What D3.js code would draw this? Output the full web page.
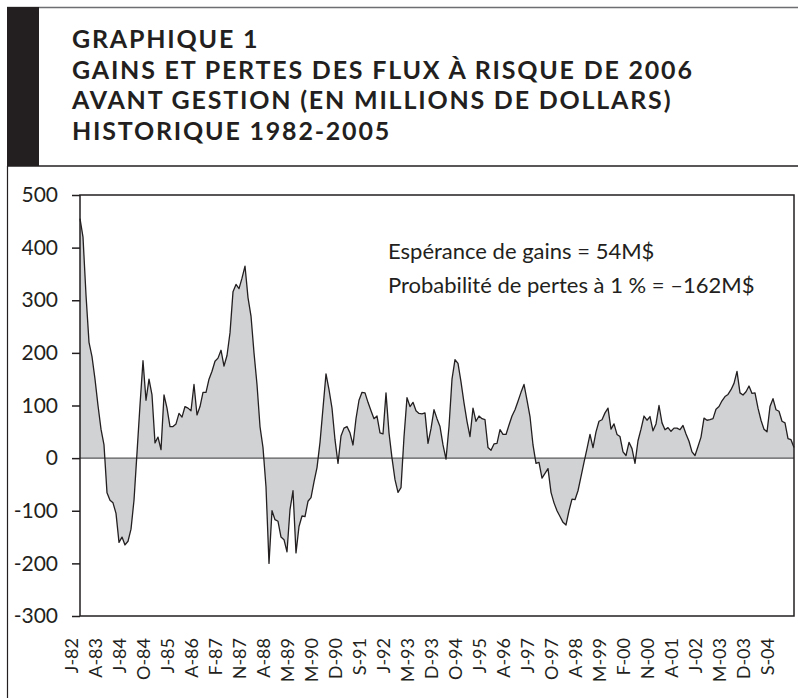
<!DOCTYPE html>
<html>
<head>
<meta charset="utf-8">
<script src="https://cdn.jsdelivr.net/npm/d3@7"></script>
<style>
  body { margin: 0; background: #fff; }
  svg { display: block; font-family: Lato, "Open Sans", sans-serif; }
</style>
</head>
<body>
<svg width="798" height="698"></svg>
<script>
// gains / pertes (M$) left to right
const gains = [
  455, 420, 310, 220, 193, 150, 100, 55, 25, -66,
  -80, -85, -105, -160, -150, -165, -158, -135, -80, 10,
  101, 185, 110, 150, 120, 29, 40, 16, 120, 95,
  60, 60, 65, 85, 78, 98, 95, 90, 140, 82,
  98, 125, 125, 150, 165, 184, 190, 205, 175, 195,
  238, 316, 330, 322, 342, 365, 305, 270, 200, 140,
  60, 20, -55, -200, -100, -117, -120, -150, -155, -178,
  -98, -62, -180, -130, -110, -111, -82, -75, -45, -18,
  30, 95, 160, 130, 95, 35, -10, 42, 57, 60,
  48, 25, 75, 110, 125, 124, 106, 90, 75, 80,
  48, 46, 124, 48, 0, -41, -65, -56, 40, 115,
  98, 106, 90, 85, 84, 86, 28, 56, 92, 75,
  60, 25, -2, 60, 150, 187, 180, 145, 105, 70,
  41, 95, 70, 80, 75, 73, 20, 15, 27, 28,
  54, 45, 45, 63, 80, 92, 108, 125, 140, 110,
  79, 25, -10, -8, -38, -29, -20, -65, -85, -100,
  -111, -122, -127, -100, -78, -79, -62, -35, -8, 18,
  45, 20, 50, 70, 73, 86, 95, 55, 65, 45,
  41, 12, 5, 30, 18, -10, 33, 55, 80, 72,
  79, 52, 65, 100, 67, 54, 58, 51, 57, 57,
  54, 62, 46, 32, 12, 5, 22, 40, 76, 72,
  73, 75, 93, 98, 109, 117, 121, 130, 142, 165,
  124, 120, 126, 137, 123, 124, 95, 72, 55, 50,
  98, 113, 92, 89, 70, 67, 37, 35, 20
];

const dateLabels = ["J-82", "A-83", "J-84", "O-84", "J-85", "A-86", "F-87", "N-87", "A-88", "M-89",
  "M-90", "D-90", "S-91", "J-92", "M-93", "D-93", "O-94", "J-95", "A-96", "J-97",
  "O-97", "A-98", "M-99", "F-00", "N-00", "A-01", "J-02", "M-03", "D-03", "S-04"];

const yTicks = [500, 400, 300, 200, 100, 0, -100, -200, -300];

const titleLines = ["GRAPHIQUE 1",
  "GAINS ET PERTES DES FLUX À RISQUE DE 2006",
  "AVANT GESTION (EN MILLIONS DE DOLLARS)",
  "HISTORIQUE 1982-2005"];

const notes = ["Espérance de gains = 54M$",
  "Probabilité de pertes à 1 % = –162M$"];

const ink = "#231f20";

let svg = d3.select("svg");

/* ----------- frame / header ----------- */

svg.append("line")
    .attr("x1", 7).attr("x2", 798).attr("y1", 7.5).attr("y2", 7.5)
    .attr("stroke", "#6d6e71").attr("stroke-width", 1.5);

svg.append("rect")
    .attr("x", 7).attr("y", 7).attr("width", 32).attr("height", 159)
    .attr("fill", ink);

svg.append("line")
    .attr("x1", 7).attr("x2", 798).attr("y1", 166).attr("y2", 166)
    .attr("stroke", ink).attr("stroke-width", 1.5);

svg.append("line")
    .attr("x1", 7.5).attr("x2", 7.5).attr("y1", 166).attr("y2", 698)
    .attr("stroke", ink).attr("stroke-width", 1.2);

svg.append("g")
    .selectAll("text")
    .data(titleLines)
    .enter()
    .append("text")
    .attr("x", 72)
    .attr("y", (d, i) => 48 + i * 30.6)
    .attr("font-size", 25)
    .attr("font-weight", "bold")
    .attr("letter-spacing", 1.8)
    .attr("fill", ink)
    .text(d => d);

/* ----------- scales ----------- */

const x = d3.scaleLinear()
    .domain([0, gains.length - 1])
    .range([80, 794]);

const y = d3.scaleLinear()
    .domain([-300, 500])
    .range([616, 195]);

const xLab = d3.scalePoint()
    .domain(dateLabels)
    .range([72, 768]);

/* ----------- area + line ----------- */

let area = d3.area()
    .x((d, i) => x(i))
    .y0(y(0))
    .y1(d => y(d));

let line = d3.line()
    .x((d, i) => x(i))
    .y(d => y(d));

svg.append("path")
    .datum(gains)
    .attr("fill", "#d1d2d4")
    .attr("d", area);

svg.append("line")
    .attr("x1", x(0)).attr("x2", x(gains.length - 1))
    .attr("y1", y(0)).attr("y2", y(0))
    .attr("stroke", "#58595b").attr("stroke-width", 1.2);

svg.append("path")
    .datum(gains)
    .attr("fill", "none")
    .attr("stroke", ink)
    .attr("stroke-width", 1.3)
    .attr("stroke-linejoin", "round")
    .attr("d", line);

svg.append("rect")
    .attr("x", 80).attr("y", 195)
    .attr("width", 714).attr("height", 421)
    .attr("fill", "none")
    .attr("stroke", ink)
    .attr("stroke-width", 1.5);

/* ----------- axes ----------- */

let yAxis = svg.append("g")
    .attr("transform", "translate(80,0)")
    .call(d3.axisLeft(y).tickValues(yTicks).tickFormat(d => String(d)).tickSize(8).tickPadding(14));

yAxis.select(".domain").remove();
yAxis.selectAll("line").attr("stroke", ink).attr("stroke-width", 1.5);
yAxis.selectAll("text")
    .attr("font-family", "Lato, sans-serif")
    .attr("font-size", 21)
    .attr("fill", ink);

svg.append("g")
    .selectAll("text")
    .data(dateLabels)
    .enter()
    .append("text")
    .attr("transform", d => `translate(${xLab(d)},638) rotate(-90)`)
    .attr("text-anchor", "end")
    .attr("dy", "0.35em")
    .attr("font-size", 18)
    .attr("fill", ink)
    .text(d => d);

/* ----------- notes ----------- */

svg.append("g")
    .selectAll("text")
    .data(notes)
    .enter()
    .append("text")
    .attr("x", 388)
    .attr("y", (d, i) => 259 + i * 34)
    .attr("font-size", 22)
    .attr("fill", ink)
    .text(d => d);
</script>
</body>
</html>
